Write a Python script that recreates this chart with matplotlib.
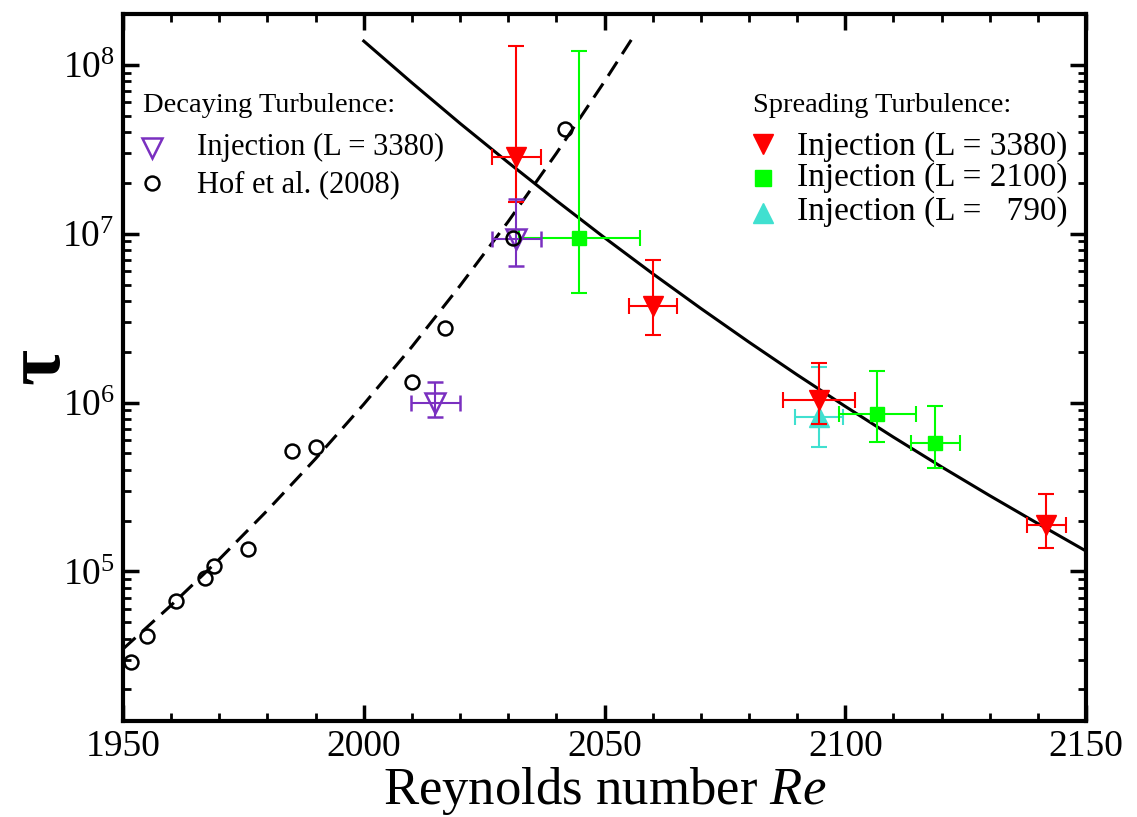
import matplotlib
matplotlib.use('Agg')
import matplotlib.pyplot as plt
from matplotlib.ticker import LogLocator, MultipleLocator, LogFormatterMathtext, NullFormatter

plt.rcParams['font.family'] = ['Liberation Serif', 'DejaVu Serif']
plt.rcParams['mathtext.fontset'] = 'custom'
plt.rcParams['mathtext.rm'] = 'Liberation Serif'
plt.rcParams['mathtext.it'] = 'Liberation Serif:italic'
plt.rcParams['mathtext.bf'] = 'Liberation Serif:bold'

# ---------------- data ----------------
# Hof et al. (2008)
hof_re = [1951.7, 1955.0, 1961.0, 1967.0, 1968.9, 1975.9, 1985.1, 1990.0, 2010.0, 2016.8, 2030.9, 2041.9]
hof_tau = [2.92e4, 4.16e4, 6.7e4, 9.2e4, 1.07e5, 1.36e5, 5.19e5, 5.47e5, 1.33e6, 2.77e6, 9.46e6, 4.18e7]

# Decaying turbulence, injection L = 3380
dec_re = [2014.9, 2031.7]
dec_re_err = [5.0, 5.1]
dec_tau = [1.0e6, 9.33e6]
dec_lo = [8.24e5, 6.46e6]
dec_hi = [1.33e6, 1.61e7]

# Spreading turbulence, injection L = 3380
s3380_re = [2031.7, 2060.0, 2094.6, 2141.7]
s3380_re_err = [5.1, 5.0, 7.5, 4.05]
s3380_tau = [2.85e7, 3.74e6, 1.04e6, 1.89e5]
s3380_lo = [1.55e7, 2.52e6, 7.48e5, 1.38e5]
s3380_hi = [1.30e8, 7.0e6, 1.72e6, 2.88e5]

# Spreading turbulence, injection L = 2100
s2100_re = [2044.8, 2106.6, 2118.7]
s2100_re_err = [12.55, 8.0, 5.1]
s2100_tau = [9.46e6, 8.6e5, 5.78e5]
s2100_lo = [4.47e6, 5.86e5, 4.11e5]
s2100_hi = [1.21e8, 1.54e6, 9.57e5]

# Spreading turbulence, injection L = 790
s790_re = [2094.6]
s790_re_err = [5.0]
s790_tau = [8.24e5]
s790_lo = [5.47e5]
s790_hi = [1.63e6]

# Fit curves
decay_fit_re = [1950, 1960, 1970, 1980, 1990, 2000, 2010, 2020, 2030, 2040, 2050, 2055.8]
decay_fit_tau = [3.47e4, 6.30e4, 1.18e5, 2.30e5, 4.65e5, 9.77e5, 2.14e6, 4.92e6,
                 1.18e7, 2.99e7, 7.97e7, 1.44e8]
spread_fit_re = [2000, 2010, 2020, 2030, 2040, 2050, 2060, 2070, 2080, 2090, 2100,
                 2110, 2120, 2130, 2140, 2150]
spread_fit_tau = [1.383e8, 7.83e7, 4.50e7, 2.64e7, 1.57e7, 9.47e6, 5.80e6, 3.61e6, 2.28e6,
                  1.46e6, 9.49e5, 6.24e5, 4.16e5, 2.81e5, 1.92e5, 1.32e5]

RED = '#ff0000'
GREEN = '#00ff00'
CYAN = '#40e0d0'
PURPLE = '#7a30c0'

# ---------------- figure ----------------
fig = plt.figure(figsize=(11.37, 8.17), dpi=100)
ax = fig.add_axes([123/1137, 1-721/817, (1086-123)/1137, (721-14)/817])
ax.set_yscale('log')
ax.set_xlim(1950, 2150)
ax.set_ylim(1.3e4, 2.0e8)

ax.plot(decay_fit_re, decay_fit_tau, color='black', lw=2.2, ls=(0, (5.5, 3)), zorder=2)
ax.plot(spread_fit_re, spread_fit_tau, color='black', lw=2.2, ls='-', zorder=2)

def yerr(tau, lo, hi):
    return [[t - l for t, l in zip(tau, lo)], [h - t for t, h in zip(tau, hi)]]

eb_kw = dict(ls='none', elinewidth=1.5, capsize=5.8, capthick=1.5)

ax.errorbar(s790_re, s790_tau, xerr=s790_re_err, yerr=yerr(s790_tau, s790_lo, s790_hi),
            marker='^', ms=14, color=CYAN, mec=CYAN, zorder=3, **eb_kw)
ax.errorbar(s2100_re, s2100_tau, xerr=s2100_re_err, yerr=yerr(s2100_tau, s2100_lo, s2100_hi),
            marker='s', ms=10, color=GREEN, mec=GREEN, zorder=3, **eb_kw)
ax.errorbar(s3380_re, s3380_tau, xerr=s3380_re_err, yerr=yerr(s3380_tau, s3380_lo, s3380_hi),
            marker='v', ms=14, color=RED, mec=RED, zorder=4, **eb_kw)
ax.errorbar(dec_re, dec_tau, xerr=dec_re_err, yerr=yerr(dec_tau, dec_lo, dec_hi),
            marker='v', ms=14, color=PURPLE, mfc='none', mec=PURPLE, mew=1.8, zorder=5, **eb_kw)
ax.plot(hof_re, hof_tau, ls='none', marker='o', ms=10, mfc='none', mec='black', mew=1.8, zorder=6)

# ---------------- axes styling ----------------
for sp in ax.spines.values():
    sp.set_linewidth(3)
ax.xaxis.set_major_locator(MultipleLocator(50))
ax.xaxis.set_minor_locator(MultipleLocator(10))
ax.yaxis.set_major_locator(LogLocator(base=10, numticks=20))
ax.yaxis.set_minor_locator(LogLocator(base=10, subs=range(2, 10), numticks=20))
ax.yaxis.set_major_formatter(LogFormatterMathtext())
ax.yaxis.set_minor_formatter(NullFormatter())
ax.tick_params(which='both', direction='in', top=True, right=True)
ax.tick_params(which='major', length=11.5, width=2.5, labelsize=27, pad=6)
ax.tick_params(which='minor', length=5.8, width=2)

ax.set_xlabel('Reynolds number $Re$', fontsize=38, labelpad=1)
ax.set_ylabel(r'$\mathbf{\tau}$', fontsize=56)
ax.yaxis.set_label_coords(-0.0478, 0.5)

# ---------------- legends ----------------
T = ax.transAxes
def fx(px):
    return (px - 123) / 963
def fy(py):
    return (721 - py) / 707

ax.text(fx(143), fy(112), 'Decaying Turbulence:', transform=T, fontsize=20.5, va='baseline', ha='left')
ax.plot([fx(152)], [fy(148)], transform=T, marker='v', ms=14, mfc='none', mec=PURPLE, mew=1.8, clip_on=False)
ax.text(fx(197), fy(155), 'Injection (L = 3380)', transform=T, fontsize=22, va='baseline', ha='left')
ax.plot([fx(152)], [fy(183)], transform=T, marker='o', ms=10, mfc='none', mec='black', mew=1.8, clip_on=False)
ax.text(fx(197), fy(192), 'Hof et al. (2008)', transform=T, fontsize=22, va='baseline', ha='left')

ax.text(fx(753), fy(112), 'Spreading Turbulence:', transform=T, fontsize=20.5, va='baseline', ha='left')
ax.plot([fx(763)], [fy(144)], transform=T, marker='v', ms=14, color=RED, clip_on=False)
ax.text(fx(797), fy(155), 'Injection (L = 3380)', transform=T, fontsize=24, va='baseline', ha='left')
ax.plot([fx(763)], [fy(178)], transform=T, marker='s', ms=11, color=GREEN, clip_on=False)
ax.text(fx(797), fy(186), 'Injection (L = 2100)', transform=T, fontsize=24, va='baseline', ha='left')
ax.plot([fx(763)], [fy(213)], transform=T, marker='^', ms=14, color=CYAN, clip_on=False)
ax.text(fx(797), fy(220), 'Injection (L =   790)', transform=T, fontsize=24, va='baseline', ha='left')

fig.savefig('out.png', dpi=100)
